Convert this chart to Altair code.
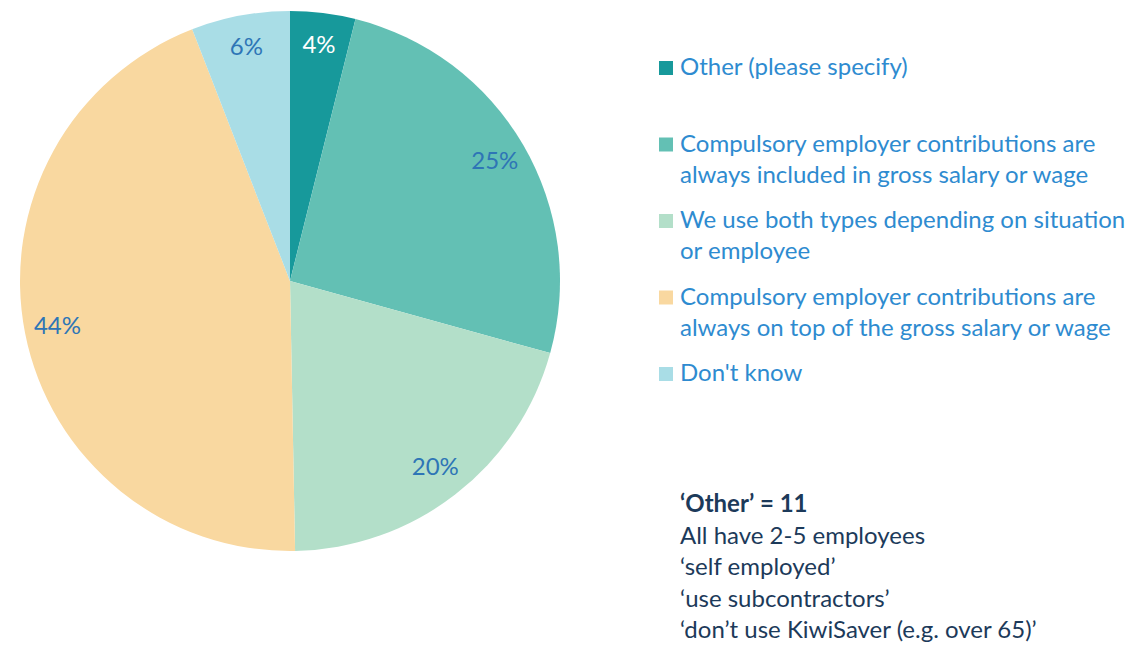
import altair as alt
import pandas as pd

categories = [
    "Other (please specify)",
    "Compulsory employer contributions are always included in gross salary or wage",
    "We use both types depending on situation or employee",
    "Compulsory employer contributions are always on top of the gross salary or wage",
    "Don't know",
]
values = [3.9, 25.4, 20.4, 44.4, 5.9]
legend_line1 = [
    "Other (please specify)",
    "Compulsory employer contributions are",
    "We use both types depending on situation",
    "Compulsory employer contributions are",
    "Don't know",
]
legend_line2 = [
    "",
    "always included in gross salary or wage",
    "or employee",
    "always on top of the gross salary or wage",
    "",
]
colors = ["#17999b", "#63c0b4", "#b3dfc9", "#f9d8a0", "#a9dde6"]
note_title = "\u2018Other\u2019 = 11"
note_lines = [
    "All have 2-5 employees",
    "\u2018self employed\u2019",
    "\u2018use subcontractors\u2019",
    "\u2018don\u2019t use KiwiSaver (e.g. over 65)\u2019",
]

FONT = "Lato"
FS = 24
LEG_COLOR = "#2e8bd0"
LAB_COLOR = "#2e75b6"
NOTE_COLOR = "#1c3a5a"

df = pd.DataFrame({
    "cat": categories,
    "value": values,
    "order": list(range(len(categories))),
    "line1": legend_line1,
    "line2": legend_line2,
})

color_scale = alt.Scale(domain=categories, range=colors)
cx, cy = 282, 273

base = alt.Chart(df)

pie = base.mark_arc(radius=270).encode(
    theta=alt.Theta("value:Q", stack=True),
    order=alt.Order("order:Q"),
    color=alt.Color("cat:N", scale=color_scale, legend=None),
    x=alt.value(cx),
    y=alt.value(cy),
)

labels = base.transform_calculate(
    txt="round(datum.value) + '%'"
).mark_text(radius=237, font=FONT, fontSize=FS).encode(
    theta=alt.Theta("value:Q", stack=True),
    order=alt.Order("order:Q"),
    text="txt:N",
    color=alt.condition(alt.datum.order == 0, alt.value("white"), alt.value(LAB_COLOR)),
    x=alt.value(cx),
    y=alt.value(cy),
)

ypos = alt.Y("cat:N", sort=categories, axis=None,
             scale=alt.Scale(type="point", range=[60, 366], padding=0))

leg_sq = base.mark_square(size=196, opacity=1).encode(
    x=alt.value(658),
    y=ypos,
    fill=alt.Fill("cat:N", scale=color_scale, legend=None),
)

leg_t1 = base.mark_text(align="left", baseline="middle", font=FONT, fontSize=FS,
                        color=LEG_COLOR).encode(
    x=alt.value(672), y=ypos, text="line1:N")
leg_t2 = base.mark_text(align="left", baseline="middle", font=FONT, fontSize=FS,
                        color=LEG_COLOR, dy=31).encode(
    x=alt.value(672), y=ypos, text="line2:N")

note_df = pd.DataFrame({"t": [note_title]})
note_head = alt.Chart(note_df).mark_text(
    align="left", baseline="middle", font=FONT, fontSize=FS, fontWeight="bold",
    color=NOTE_COLOR).encode(x=alt.value(672), y=alt.value(497), text="t:N")

notes_df = pd.DataFrame({"t": note_lines, "i": list(range(len(note_lines)))})
note_body = alt.Chart(notes_df).mark_text(
    align="left", baseline="middle", font=FONT, fontSize=FS,
    color=NOTE_COLOR).encode(
    x=alt.value(672),
    y=alt.Y("i:O", axis=None, scale=alt.Scale(type="point", range=[529, 623], padding=0)),
    text="t:N")

chart = alt.layer(pie, labels, leg_sq, leg_t1, leg_t2, note_head, note_body).resolve_scale(
    y="independent", color="independent"
).properties(
    width=1126, height=634,
    autosize=alt.AutoSizeParams(type="none"),
    padding=0,
).configure_view(stroke=None)

chart.save("out.html", embed_options={"renderer": "svg", "actions": False})
